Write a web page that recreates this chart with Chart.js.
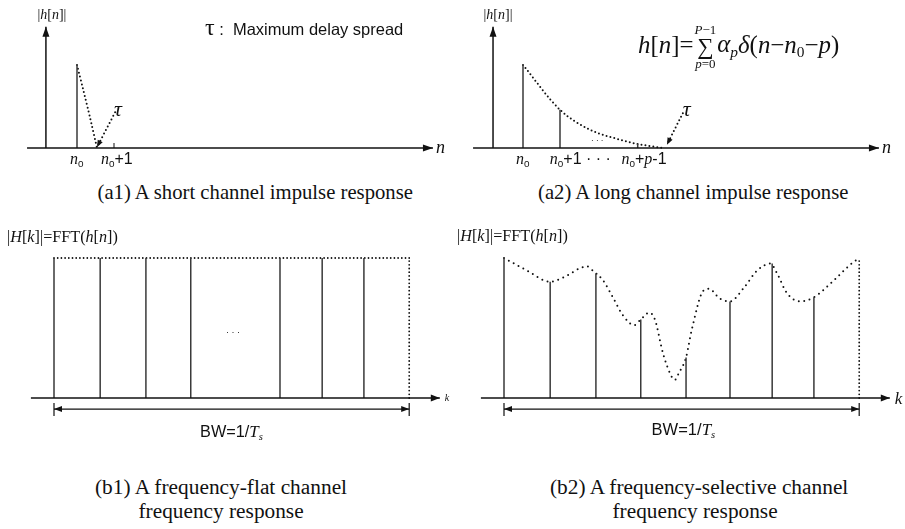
<!DOCTYPE html>
<html><head><meta charset="utf-8">
<script src="https://cdn.jsdelivr.net/npm/chart.js@4.4.1/dist/chart.umd.min.js"></script>
<style>
html,body{margin:0;padding:0;background:#fff;}
#wrap{position:relative;width:905px;height:529px;overflow:hidden;background:#fff;}
canvas{position:absolute;}
.t{position:absolute;white-space:nowrap;color:#111;line-height:1;}
.serif{font-family:"Liberation Serif","DejaVu Serif",serif;}
.sans{font-family:"Liberation Sans",Arial,sans-serif;}
.t i{font-style:italic;}
.t sub{font-size:62%;vertical-align:baseline;position:relative;top:0.32em;}
.sum{display:inline-flex;flex-direction:column;align-items:center;vertical-align:middle;line-height:0.95;margin:0 1px;}
.lim{font-size:13px;}
.sig{font-size:23px;}
</style></head><body><div id="wrap"></div>
<script>
// ================= DATA =================
// (a1) short channel impulse response (delay measured in samples from n0)
const a1StemDelay = [0];
const a1StemMag   = [1.0];
const a1DecayX    = [0, 0.18, 0.35, 0.54];
const a1DecayY    = [1.0, 0.68, 0.37, 0.0];
const a1TauX      = [1.03, 0.54];
const a1TauY      = [0.43, 0.01];
const a1TickX     = [1];
const a1TickLabels = ['<i>n</i><sub class="sans">0</sub>', '<i>n</i><sub class="sans">0</sub><span class="sans">+1</span>'];
const a1TickPos    = [0, 1.08];

// (a2) long channel impulse response
const a2StemDelay = [0, 1, 3.1];
const a2StemMag   = [1.0, 0.46, 0.05];
const a2DecayX    = [0, 1.0, 1.81, 2.62, 3.08, 3.78];
const a2DecayY    = [1.0, 0.46, 0.22, 0.10, 0.05, 0.0];
const a2TauX      = [4.32, 3.89];
const a2TauY      = [0.42, 0.04];
const a2TickLabels = ['<i>n</i><sub class="sans">0</sub>', '<i>n</i><sub class="sans">0</sub><span class="sans">+1 · · ·</span>', '<i>n</i><sub class="sans">0</sub><span class="sans">+</span><i>p</i><span class="sans">-1</span>'];
const a2TickPos    = [0, 1.55, 3.27];

// impulse-response axes (data units)
const aXAxis = [-1.35, 9.62];
const a1YAxisX = -0.84, a2YAxisX = -0.81, aYAxisTop = 1.46;

// (b) subcarrier positions k and magnitudes |H[k]|
const kPos  = [0, 1.04, 2.07, 3.08, 4.1, 5.09, 6.04, 6.98, 8];
const b1Mag = [1, 1, 1, 1, null, 1, 1, 1, 1];
const b2Mag = [1.0, 0.83, 0.89, 0.56, 0.29, 0.69, 0.96, 0.72, 1.0];
const b2CurveK = [0,0.52,1.04,1.33,1.87,2.0,2.23,2.45,2.68,2.93,3.08,3.27,3.40,3.58,3.78,3.85,3.94,4.1,4.23,4.50,4.62,4.86,5.09,5.41,5.70,6.0,6.15,6.37,6.67,6.98,7.43,7.79,8.0];
const b2CurveH = [1.0,0.91,0.83,0.86,0.94,0.91,0.84,0.72,0.59,0.52,0.56,0.61,0.56,0.32,0.15,0.13,0.18,0.29,0.49,0.77,0.78,0.71,0.69,0.79,0.91,0.96,0.89,0.75,0.69,0.72,0.84,0.95,1.0];
const bKAxis = [-0.52, 8.69];
const bwRange = [0, 8];
const bwY = -0.079;
const bwTick = [-0.036, -0.129];

// ================= HELPERS =================
const wrap = document.getElementById('wrap');
const INK = '#111', STEM = '#3a3a3a';

function stems(xs, ys){
  const d=[];
  xs.forEach((x,i)=>{ if(ys[i]==null) return; d.push({x,y:0},{x,y:ys[i]},{x,y:null}); });
  return d;
}
function pts(xs, ys){ return xs.map((x,i)=>({x, y:ys[i]})); }
function endTicks(r, t){ return [{x:r[0],y:t[0]},{x:r[0],y:t[1]},{x:r[0],y:null},{x:r[1],y:t[0]},{x:r[1],y:t[1]}]; }
function solid(data, extra){ return Object.assign({data, borderColor:INK, borderWidth:1.5, pointRadius:0, fill:false, tension:0, spanGaps:false, clip:false}, extra||{}); }
function dotted(data, gap, extra){ return Object.assign({data, borderColor:INK, borderWidth:2, borderDash:[0,gap], borderCapStyle:'round', pointRadius:0, fill:false, tension:0, clip:false}, extra||{}); }

const arrowPlugin = {
  id:'arrows',
  afterDatasetsDraw(chart){
    const ctx = chart.ctx;
    chart.data.datasets.forEach((ds,i)=>{
      if(!ds.arrow) return;
      const p = chart.getDatasetMeta(i).data;
      const head = (tip, from)=>{
        const dx=tip.x-from.x, dy=tip.y-from.y, L=Math.hypot(dx,dy)||1;
        const ux=dx/L, uy=dy/L, len=ds.arrowLen||10, hw=ds.arrowHW||3.5;
        ctx.save(); ctx.fillStyle=INK; ctx.beginPath();
        ctx.moveTo(tip.x,tip.y);
        ctx.lineTo(tip.x-ux*len-uy*hw, tip.y-uy*len+ux*hw);
        ctx.lineTo(tip.x-ux*len+uy*hw, tip.y-uy*len-ux*hw);
        ctx.closePath(); ctx.fill(); ctx.restore();
      };
      if(ds.arrow.includes('end')) head(p[p.length-1], p[p.length-2]);
      if(ds.arrow.includes('start')) head(p[0], p[1]);
    });
  }
};

// layout: canvas rect + where value 0 sits (px) and px per unit
function makeChart(L, datasets){
  const c=document.createElement('canvas');
  c.width=L.w; c.height=L.h;
  c.style.left=L.left+'px'; c.style.top=L.top+'px';
  c.style.width=L.w+'px'; c.style.height=L.h+'px';
  wrap.appendChild(c);
  const ch = new Chart(c,{
    type:'line',
    data:{datasets},
    options:{
      responsive:false, animation:false, devicePixelRatio:1, events:[],
      layout:{padding:0},
      plugins:{legend:{display:false}, tooltip:{enabled:false}, title:{display:false}},
      scales:{
        x:{type:'linear', display:false, offset:false, min:-L.x0/L.xu, max:(L.w-L.x0)/L.xu},
        y:{type:'linear', display:false, offset:false, min:(L.y0-L.h)/L.yu, max:L.y0/L.yu}
      }
    },
    plugins:[arrowPlugin]
  });
  ch._L = L;
  return ch;
}
function addText(html, x, y, cls, fs, ax, ay, targetW){
  const d=document.createElement('div');
  d.className='t '+cls; d.innerHTML=html; d.style.fontSize=fs+'px';
  wrap.appendChild(d);
  if(targetW){ const w0=d.offsetWidth; d.style.fontSize=(fs*targetW/w0)+'px'; }
  const w=d.offsetWidth, h=d.offsetHeight;
  d.style.left=(x-(ax==null?0.5:ax)*w)+'px';
  d.style.top=(y-(ay==null?0.5:ay)*h)+'px';
  return d;
}
function px(ch, v){ return ch._L.left + ch.scales.x.getPixelForValue(v); }
function py(ch, v){ return ch._L.top + ch.scales.y.getPixelForValue(v); }

// ================= (a1) =================
const LA1 = {left:0, top:0, w:452, h:175, x0:77, xu:37, y0:148, yu:83};
const cA1 = makeChart(LA1, [
  solid(pts(aXAxis,[0,0]), {arrow:['end']}),
  solid(pts([a1YAxisX,a1YAxisX],[0,aYAxisTop]), {arrow:['end']}),
  solid(stems(a1StemDelay,a1StemMag), {borderColor:STEM}),
  solid(stems(a1TickX,[0.06]), {borderColor:STEM, borderWidth:1.2}),
  dotted(pts(a1DecayX,a1DecayY), 4, {tension:0.2}),
  dotted(pts(a1TauX,a1TauY), 4, {arrow:['end'], arrowLen:7, arrowHW:2.8})
]);

// ================= (a2) =================
const LA2 = {left:452, top:0, w:453, h:175, x0:71, xu:37, y0:148, yu:83};
const cA2 = makeChart(LA2, [
  solid(pts(aXAxis,[0,0]), {arrow:['end']}),
  solid(pts([a2YAxisX,a2YAxisX],[0,aYAxisTop]), {arrow:['end']}),
  solid(stems(a2StemDelay,a2StemMag), {borderColor:STEM}),
  dotted(pts(a2DecayX,a2DecayY), 4, {cubicInterpolationMode:'monotone'}),
  dotted(pts(a2TauX,a2TauY), 4, {arrow:['end'], arrowLen:7, arrowHW:2.8})
]);

// ================= (b1) =================
const LB1 = {left:0, top:215, w:452, h:230, x0:54, xu:44.4, y0:183, yu:140};
const lastK = kPos[kPos.length-1];
const cB1 = makeChart(LB1, [
  solid(pts(bKAxis,[0,0]), {arrow:['end'], arrowLen:9, arrowHW:3.5}),
  solid(stems(kPos.slice(0,-1),b1Mag.slice(0,-1)), {borderColor:STEM}),
  dotted(pts([kPos[0],lastK],[1,1]), 3.7, {borderWidth:1.8}),
  dotted(pts([lastK,lastK],[0,b1Mag[b1Mag.length-1]]), 3.7, {borderWidth:1.8}),
  solid(pts(bwRange,[bwY,bwY]), {borderWidth:1.3, arrow:['start','end'], arrowLen:8, arrowHW:3}),
  solid(endTicks(bwRange,bwTick), {borderWidth:1.2})
]);

// ================= (b2) =================
const LB2 = {left:452, top:215, w:453, h:230, x0:52, xu:44.4, y0:183, yu:140};
const cB2 = makeChart(LB2, [
  solid(pts(bKAxis,[0,0]), {arrow:['end'], arrowLen:9, arrowHW:3.5}),
  solid(stems(kPos.slice(0,-1),b2Mag.slice(0,-1)), {borderColor:STEM}),
  dotted(pts([lastK,lastK],[0,b2Mag[b2Mag.length-1]]), 3.7, {borderWidth:1.8}),
  dotted(pts(b2CurveK,b2CurveH), 5.5, {cubicInterpolationMode:'monotone'}),
  solid(pts(bwRange,[bwY,bwY]), {borderWidth:1.3, arrow:['start','end'], arrowLen:8, arrowHW:3}),
  solid(endTicks(bwRange,bwTick), {borderWidth:1.2})
]);

// ================= TEXT =================
// impulse-response panels
addText('|<i>h</i>[<i>n</i>]|', px(cA1,a1YAxisX)+6, 15, 'serif', 14);
addText('|<i>h</i>[<i>n</i>]|', px(cA2,a2YAxisX)+5, 15, 'serif', 14);
addText('<span class="serif" style="font-size:24px">τ</span>&nbsp;:&nbsp; Maximum delay spread', 205, 27, 'sans', 14, 0, 0.5, 200);
addText('<i>τ</i>', px(cA1,a1TauX[0])+3, py(cA1,a1TauY[0])-3, 'serif', 22);
addText('<i>τ</i>', px(cA2,a2TauX[0])+4, py(cA2,a2TauY[0])-4, 'serif', 22);
a1TickLabels.forEach((t,i)=>addText(t, px(cA1,a1TickPos[i]), py(cA1,0)+11, 'serif', 16));
a2TickLabels.forEach((t,i)=>addText(t, px(cA2,a2TickPos[i]), py(cA2,0)+11, 'serif', 16));
addText('<i>n</i>', px(cA1,aXAxis[1])+3, py(cA1,0)-1, 'serif', 18, 0);
addText('<i>n</i>', px(cA2,aXAxis[1])+3, py(cA2,0)-1, 'serif', 18, 0);
addText('· · ·', px(cA2,2.0), py(cA2,0)-7, 'sans', 8);
addText('<i>h</i>[<i>n</i>]=<span class="sum"><span class="lim"><i>P</i>−1</span><span class="sig">∑</span><span class="lim"><i>p</i>=0</span></span><i>α<sub>p</sub></i><i>δ</i>(<i>n</i>−<i>n</i><sub>0</sub>−<i>p</i>)', 638, 47, 'serif', 24, 0, 0.5, 202);
addText('(a1) A short channel impulse response', 255, 192, 'serif', 19, 0.5, 0.5, 316);
addText('(a2) A long channel impulse response', 693, 192, 'serif', 19, 0.5, 0.5, 310);

// frequency-response panels
addText('|<i>H</i>[<i>k</i>]|=FFT(<i>h</i>[<i>n</i>])', 7, 237, 'serif', 14, 0, 0.5, 111);
addText('|<i>H</i>[<i>k</i>]|=FFT(<i>h</i>[<i>n</i>])', 457, 236, 'serif', 14, 0, 0.5, 111);
addText('· · ·', px(cB1,4.03), py(cB1,0.47), 'sans', 9);
addText('<i>k</i>', px(cB1,bKAxis[1])+5, py(cB1,0), 'serif', 10, 0);
addText('<i>k</i>', px(cB2,bKAxis[1])+5, py(cB2,0), 'serif', 17, 0);
addText('BW=1/<i class="serif" style="font-size:17px">T<sub>s</sub></i>', px(cB1,(bwRange[0]+bwRange[1])/2), 431, 'sans', 15, 0.5, 0.5, 64);
addText('BW=1/<i class="serif" style="font-size:17px">T<sub>s</sub></i>', px(cB2,(bwRange[0]+bwRange[1])/2)+2, 430, 'sans', 15, 0.5, 0.5, 65);
addText('(b1) A frequency-flat channel', 221, 487, 'serif', 19, 0.5, 0.5, 252);
addText('frequency response', 221, 511, 'serif', 19, 0.5, 0.5, 165);
addText('(b2) A frequency-selective channel', 699, 487, 'serif', 19, 0.5, 0.5, 298);
addText('frequency response', 695, 511, 'serif', 19, 0.5, 0.5, 165);
</script></body></html>
